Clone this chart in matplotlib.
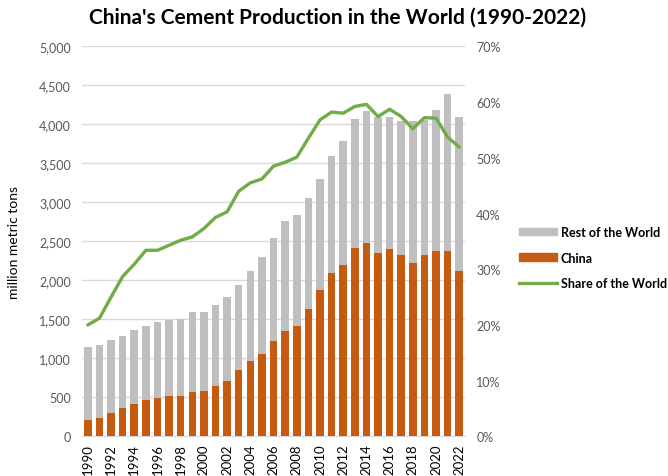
import matplotlib
matplotlib.use("Agg")
import matplotlib.pyplot as plt
from matplotlib.ticker import FuncFormatter, MultipleLocator
from matplotlib.patches import Patch
from matplotlib.lines import Line2D

years = list(range(1990, 2023))
world_total = [1140, 1175, 1236, 1291, 1364, 1415, 1471, 1496, 1500, 1591, 1595,
               1689, 1791, 1937, 2124, 2300, 2540, 2766, 2834, 3052, 3300, 3599,
               3791, 4069, 4172, 4091, 4091, 4043, 4043, 4060, 4189, 4394, 4091]
china = [214, 240, 304, 364, 415, 467, 488, 514, 522, 565, 586,
         650, 714, 851, 962, 1056, 1227, 1356, 1415, 1633, 1877, 2095,
         2201, 2412, 2479, 2351, 2402, 2321, 2223, 2330, 2381, 2373, 2120]
share_pct = [20.0, 21.2, 25.0, 28.7, 30.9, 33.4, 33.4, 34.3, 35.2, 35.8, 37.3,
             39.3, 40.3, 44.0, 45.5, 46.2, 48.5, 49.2, 50.1, 53.5, 56.8, 58.2,
             58.0, 59.2, 59.6, 57.4, 58.7, 57.4, 55.2, 57.2, 57.1, 53.7, 51.9]
rest_of_world = [t - c for t, c in zip(world_total, china)]

ORANGE = "#C55A11"
GREY = "#BFBFBF"
GREEN = "#70AD47"
TICK = "#595959"

plt.rcParams["font.family"] = ["Lato", "DejaVu Sans"]

fig = plt.figure(figsize=(6.68, 4.77), dpi=100)
ax = fig.add_axes([0.1228, 0.083, 0.5734, 0.8178])
ax2 = ax.twinx()

x = list(range(len(years)))
ax.bar(x, china, width=0.65, color=ORANGE, zorder=3)
ax.bar(x, rest_of_world, bottom=china, width=0.65, color=GREY, zorder=3)

ax.set_xlim(-0.5, len(years) - 0.5)
ax.set_ylim(0, 5000)
ax.yaxis.set_major_locator(MultipleLocator(500))
ax.yaxis.set_major_formatter(FuncFormatter(lambda v, p: f"{int(v):,}"))
ax.grid(axis="y", color="#D9D9D9", linewidth=1.0, zorder=0)
ax.set_axisbelow(True)

ax.set_xticks(x[::2])
ax.set_xticklabels([str(y) for y in years[::2]], rotation=90, fontsize=9.5, color="black")

ax2.plot(x, share_pct, color=GREEN, linewidth=2.4, zorder=5, solid_capstyle="round")
ax2.set_ylim(0, 70)
ax2.yaxis.set_major_locator(MultipleLocator(10))
ax2.yaxis.set_major_formatter(FuncFormatter(lambda v, p: f"{int(v)}%"))

for a in (ax, ax2):
    for s in a.spines.values():
        s.set_visible(False)
    a.tick_params(length=0)
ax.spines["bottom"].set_visible(True)
ax.spines["bottom"].set_color("#D9D9D9")
ax.tick_params(axis="y", labelsize=9, labelcolor=TICK, pad=8)
ax.tick_params(axis="x", pad=5)
ax2.tick_params(axis="y", labelsize=9, labelcolor=TICK, pad=8)

ax.set_ylabel("million metric tons", fontsize=10, color="black", labelpad=14)

fig.text(0.505, 0.963, "China's Cement Production in the World (1990-2022)",
         ha="center", va="center", fontsize=15, fontweight="bold")

handles = [Patch(color=GREY), Patch(color=ORANGE), Line2D([0], [0], color=GREEN, linewidth=2.4)]
labels = ["Rest of the World", "China", "Share of the World"]
leg = fig.legend(handles, labels, loc="center left", bbox_to_anchor=(0.77, 0.458),
                 frameon=False, prop={"size": 9, "weight": "bold"},
                 handlelength=3.0, handleheight=0.55, handletextpad=0.3, labelspacing=1.1,
                 borderaxespad=0)

fig.savefig("out.png", dpi=100)
